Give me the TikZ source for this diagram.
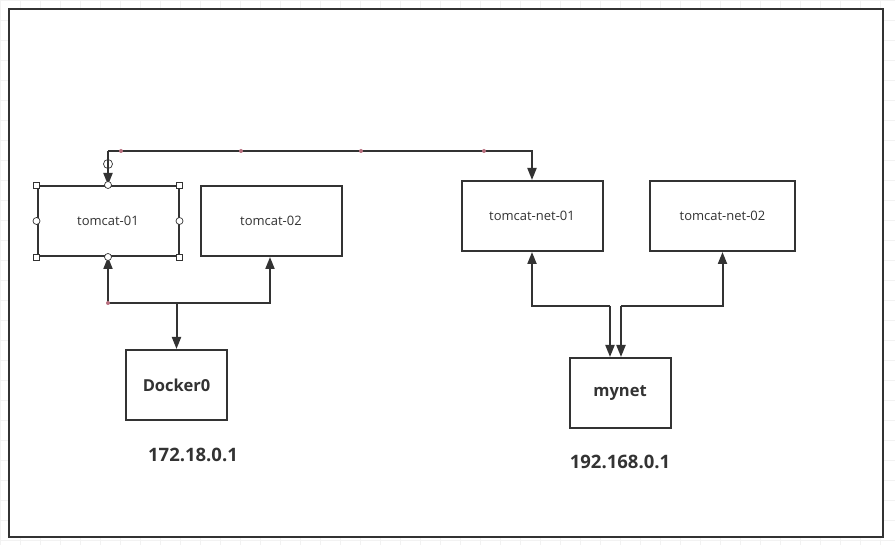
\documentclass[tikz,border=0pt]{standalone}
\usepackage{fontspec}
\setmainfont{Open Sans}
\usetikzlibrary{arrows.meta,positioning}

\definecolor{linecol}{HTML}{333333}
\definecolor{pinkdot}{HTML}{B9707F}

\tikzset{
  box/.style={draw=linecol, line width=2pt, minimum width=141pt, minimum height=70pt,
    inner sep=0pt, font=\fontsize{13}{15}\selectfont, text=linecol},
  netbox/.style={draw=linecol, line width=2pt, minimum width=101pt, minimum height=70pt,
    inner sep=0pt, font=\bfseries\fontsize{16.5}{19}\selectfont, text=linecol},
  iplabel/.style={font=\bfseries\fontsize{18.5}{22}\selectfont, text=linecol},
  link/.style={draw=linecol, line width=2pt},
  tip/.style={-{Triangle[length=12pt,width=9pt]}},
  handle/.style={draw=linecol, fill=white, line width=0.7pt},
}

\begin{document}
\begin{tikzpicture}[x=1pt,y=-1pt]

\useasboundingbox (0,0) rectangle (895,545);

% ===== Nền lưới =====
\foreach \x in {0,20,...,880} {
    \draw[black!5, line width=0.5pt] (\x,0) -- (\x,545);
}
\foreach \y in {0,20,...,540} {
    \draw[black!5, line width=0.5pt] (0,\y) -- (895,\y);
}
\fill[white] (9,9) rectangle (883,537);
\draw[linecol, line width=2pt] (9,9) rectangle (883,537);

% ===== Các hộp =====
\node[box] (tc1) at (108,221) {tomcat-01};
\node[box, right=20pt of tc1] (tc2) {tomcat-02};
\node[box] (tn1) at (532,216) {tomcat-net-01};
\node[box, minimum width=145pt] (tn2) at (722.5,216) {tomcat-net-02};
\node[netbox] (dk) at (176.5,385) {Docker0};
\node[netbox] (my) at (620,393) {mynet};

% ===== Địa chỉ IP =====
\node[iplabel] (ip1) at (193,455) {172.18.0.1};
\node[iplabel] (ip2) at (620,462) {192.168.0.1};

% ===== Điểm nối =====
\coordinate (top) at (0,151);
\coordinate (dkbus) at (0,303);
\coordinate (mybus) at (0,306);

% ===== Đường nối =====
\draw[link, tip] (tc1.north |- top) -- (tc1.north);
\draw[link, tip] (tc1.north |- top) -- (tn1.north |- top) -- (tn1.north);

\draw[link, tip] (tc1.south |- dkbus) -- (tc1.south);
\draw[link, tip] (tc1.south |- dkbus) -- ([xshift=-1pt]tc2.south |- dkbus) -- ([xshift=-1pt]tc2.south);
\draw[link, tip] (dk.north |- dkbus) -- (dk.north);

\draw[link, tip] ([xshift=-10pt]my.north |- mybus) -- (tn1.south |- mybus) -- (tn1.south);
\draw[link, tip] ([xshift=-10pt]my.north |- mybus) -- ([xshift=-10pt]my.north);
\draw[link, tip] ([xshift=1pt]my.north |- mybus) -- (tn2.south |- mybus) -- (tn2.south);
\draw[link, tip] ([xshift=1pt]my.north |- mybus) -- ([xshift=1pt]my.north);

% ===== Tay nắm chọn =====
\foreach \a in {north west,north east,south west,south east} {
    \draw[handle] ([shift={(-3pt,-3pt)}]tc1.\a) rectangle ++(6pt,6pt);
}
\foreach \a in {north,south,west,east} {
    \draw[handle] (tc1.\a) circle (3.5pt);
}
\draw[handle, fill=none] ([yshift=21pt]tc1.north) circle (4.5pt);

\foreach \x in {121,241,361,484} {
    \fill[pinkdot] (\x,151) circle (2pt);
}
\fill[pinkdot] (tc1.south |- dkbus) circle (2pt);

\end{tikzpicture}
\end{document}
